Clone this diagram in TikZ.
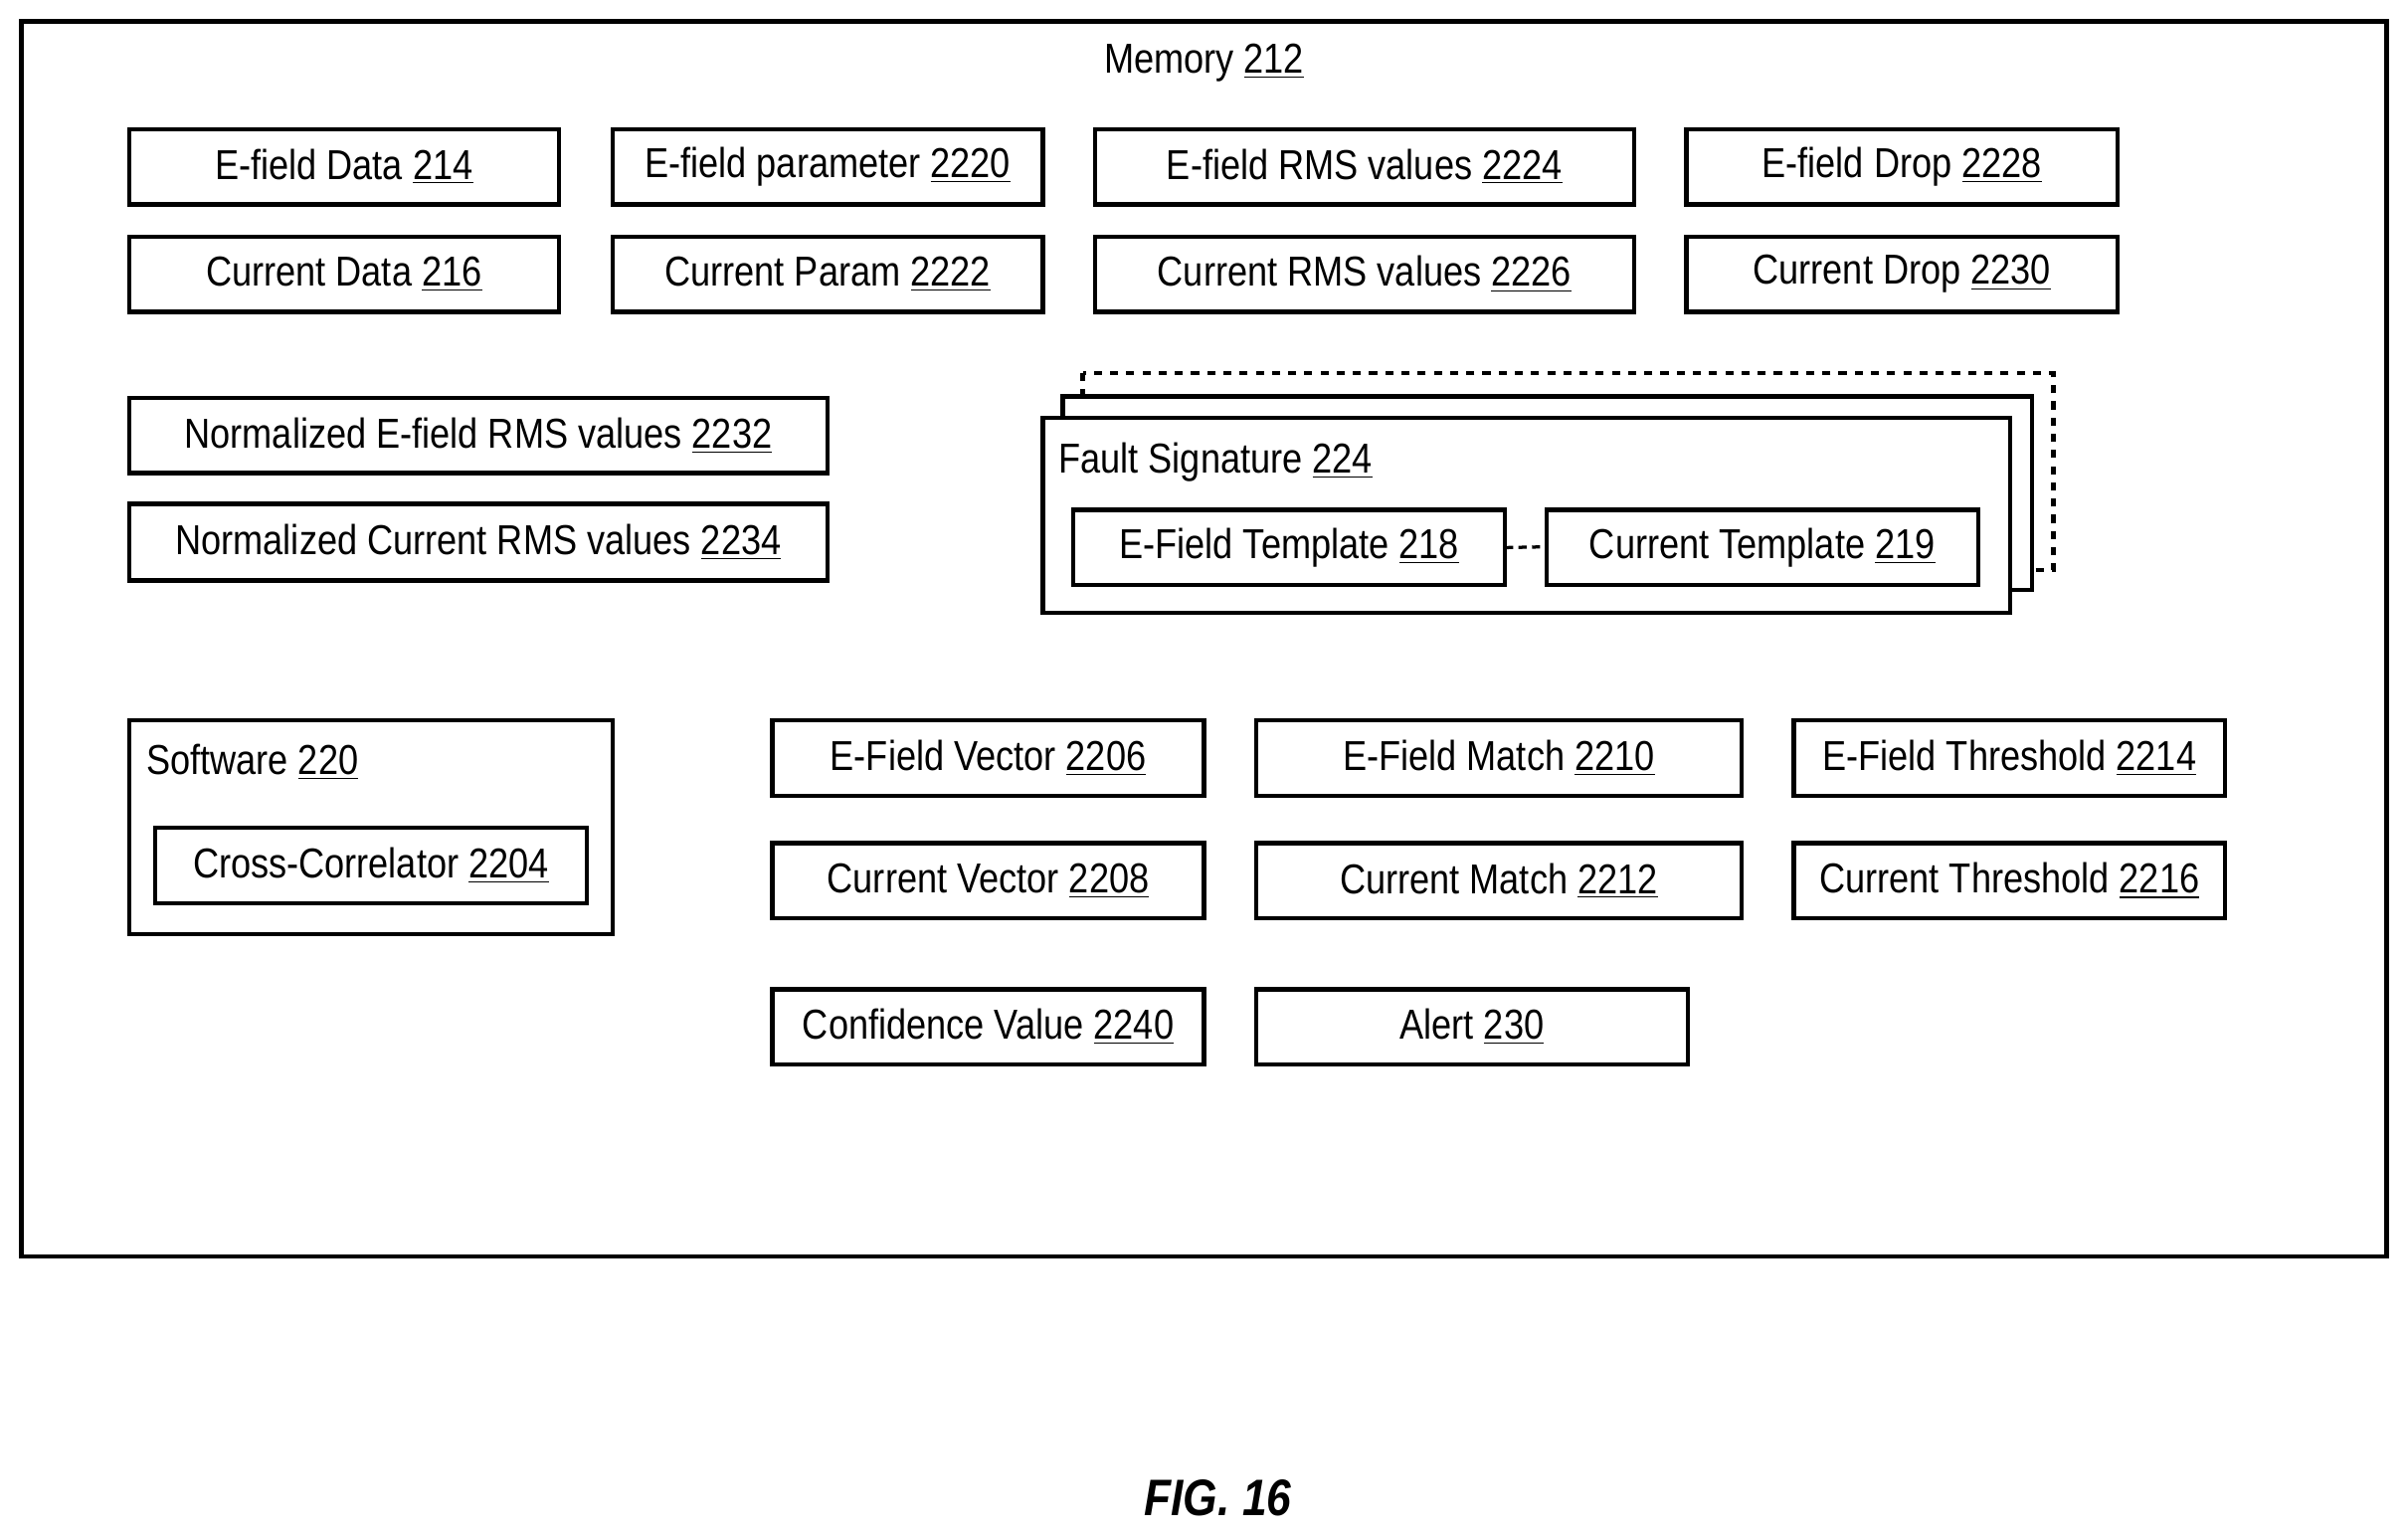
\documentclass[tikz,border=0pt]{standalone}
\usepackage{fontspec}
\setmainfont{Liberation Sans}[FakeStretch=0.86]
\newcommand{\un}[1]{\underline{#1}}
\begin{document}
\begin{tikzpicture}[x=0.02cm,y=-0.02cm,
  bx/.style={draw,line width=1.6pt,fill=white},
  t/.style={font=\fontsize{15.5}{18}\selectfont,inner sep=0pt}]
\useasboundingbox (0,0) rectangle (1568,1000);
\draw[line width=1.6pt] (14,14) rectangle (1554,818);
\node[t] (mem) at (784,41) {Memory \un{212}};
% boxes
\newcommand{\bx}[6]{\draw[bx] (#2,#3) rectangle (#4,#5); \node[t] (#1) at ({(#2+#4)/2},{(#3+#5)/2}) {#6};}
\bx{a1}{84}{84}{364}{133}{E-field Data \un{214}}
\bx{a2}{399}{84}{679}{133}{E-field parameter \un{2220}}
\bx{a3}{713}{84}{1064}{133}{E-field RMS values \un{2224}}
\bx{a4}{1098}{84}{1379}{133}{E-field Drop \un{2228}}
\bx{b1}{84}{154}{364}{203}{Current Data \un{216}}
\bx{b2}{399}{154}{679}{203}{Current Param \un{2222}}
\bx{b3}{713}{154}{1064}{203}{Current RMS values \un{2226}}
\bx{b4}{1098}{154}{1379}{203}{Current Drop \un{2230}}
\bx{n1}{84}{259}{539}{308}{Normalized E-field RMS values \un{2232}}
\bx{n2}{84}{328}{539}{378}{Normalized Current RMS values \un{2234}}
% fault signature stack
\draw[bx,dashed] (705,243) rectangle (1337,371);
\draw[bx] (692,258) rectangle (1323,384);
\draw[bx] (679,272) rectangle (1309,399);
\node[t,anchor=west] (fs) at (689,301) {Fault Signature \un{224}};
\bx{ft}{699}{332}{980}{381}{E-Field Template \un{218}}
\bx{ct}{1007}{332}{1288}{381}{Current Template \un{219}}
\draw[line width=1.2pt,dashed,dash pattern=on 3pt off 2pt] (ft.east-|980,356) -- (1007,356);
% software
\draw[bx] (84,469) rectangle (399,608);
\node[t,anchor=west] (sw) at (95,496) {Software \un{220}};
\bx{cc}{101}{539}{382}{588}{Cross-Correlator \un{2204}}
\bx{v1}{503}{469}{784}{518}{E-Field Vector \un{2206}}
\bx{m1}{818}{469}{1134}{518}{E-Field Match \un{2210}}
\bx{h1}{1168}{469}{1449}{518}{E-Field Threshold \un{2214}}
\bx{v2}{503}{549}{784}{598}{Current Vector \un{2208}}
\bx{m2}{818}{549}{1134}{598}{Current Match \un{2212}}
\bx{h2}{1168}{549}{1449}{598}{Current Threshold \un{2216}}
\bx{cv}{503}{644}{784}{693}{Confidence Value \un{2240}}
\bx{al}{818}{644}{1099}{693}{Alert \un{230}}
\node[font=\fontsize{19}{22}\selectfont\bfseries\itshape] (fig) at (793,975) {FIG. 16};
\end{tikzpicture}
\end{document}
